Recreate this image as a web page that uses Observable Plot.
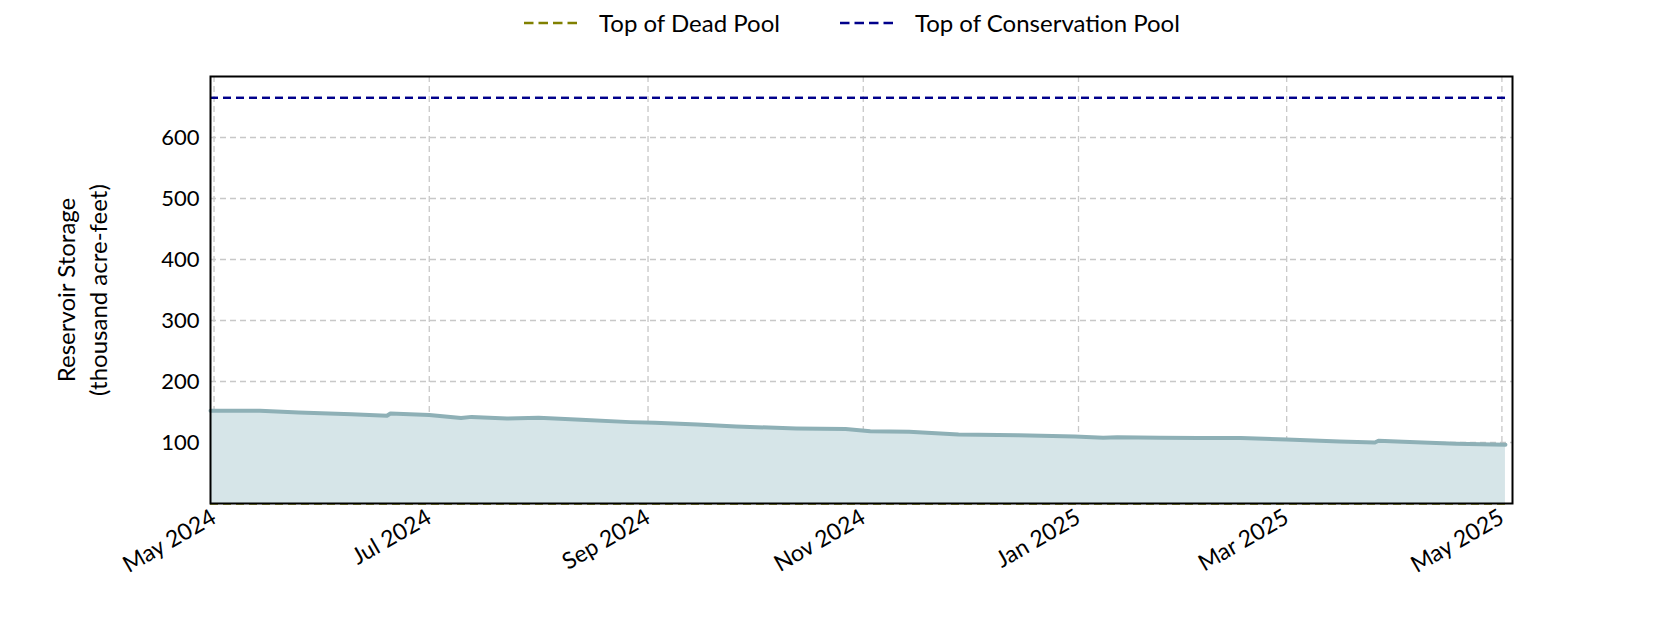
<!DOCTYPE html>
<html>
<head>
<meta charset="utf-8">
<script src="https://cdn.jsdelivr.net/npm/d3@7"></script>
<script src="https://cdn.jsdelivr.net/npm/@observablehq/plot@0.6"></script>
<style>
  body { margin: 0; background: #fff; font-family: Lato, "Open Sans", sans-serif; }
  #legend { height: 45px; display: flex; justify-content: center; align-items: center; font-size: 24px; color: #000; padding-left: 24px; box-sizing: border-box; }
  .item { display: flex; align-items: center; margin: 0 30px; }
  .item svg { margin-right: 22px; }
</style>
</head>
<body>
<div id="legend"></div>
<div id="chart"></div>
<script>
const dates = ["2024-04-30","2024-05-14","2024-05-25","2024-06-09","2024-06-19","2024-06-20","2024-07-01","2024-07-10","2024-07-13","2024-07-23","2024-08-01","2024-08-13","2024-08-27","2024-09-03","2024-09-15","2024-09-26","2024-10-13","2024-10-27","2024-11-03","2024-11-14","2024-11-28","2024-12-15","2024-12-31","2025-01-08","2025-01-12","2025-01-24","2025-02-04","2025-02-16","2025-03-01","2025-03-16","2025-03-26","2025-03-27","2025-04-03","2025-04-18","2025-05-02"];
const storage = [152,152,149.2,146.5,143.8,147.5,144.9,140,142,139.4,140.5,137.2,133.4,132.3,129.5,126.2,123,122,118.5,117.5,113.1,112,109.8,107.7,108.8,107.7,107.2,107.2,105,101.6,100,102.8,101.1,97.9,96.2];
const deadPool = 0;
const conservationPool = 665;
const yTicks = [100, 200, 300, 400, 500, 600];
const xTickDates = ["2024-05-01","2024-07-01","2024-09-01","2024-11-01","2025-01-01","2025-03-01","2025-05-01"];
const xDomain = ["2024-04-30","2025-05-04"];
const legendLabels = ["Top of Dead Pool", "Top of Conservation Pool"];
const legendColors = ["#808000", "#00008b"];
const yLabel = "Reservoir Storage\n(thousand acre-feet)";

const parse = d3.utcParse("%Y-%m-%d");
const data = dates.map((d, i) => ({date: parse(d), value: storage[i]}));
const start = data[0].date, end = data[data.length - 1].date;
const pools = [
  {name: legendLabels[0], value: deadPool, color: legendColors[0]},
  {name: legendLabels[1], value: conservationPool, color: legendColors[1]}
];

// legend
const legend = document.getElementById("legend");
legendLabels.forEach((lab, i) => {
  const it = document.createElement("div");
  it.className = "item";
  it.innerHTML = `<svg width="53" height="10"><line x1="0" y1="5" x2="53" y2="5" stroke="${legendColors[i]}" stroke-width="2.6" stroke-dasharray="9.5,5"/></svg><span>${lab}</span>`;
  legend.appendChild(it);
});

const chart = Plot.plot({
  width: 1680,
  height: 585,
  marginTop: 31,
  marginLeft: 210,
  marginRight: 168,
  marginBottom: 127,
  style: {fontFamily: "Lato, 'Open Sans', sans-serif", fontSize: "22px", color: "#000", background: "#fff"},
  x: {type: "utc", domain: xDomain.map(parse)},
  y: {domain: [0, 700]},
  marks: [
    Plot.gridX(xTickDates.map(parse), {stroke: "#c8c8c8", strokeOpacity: 1, strokeWidth: 1.3, strokeDasharray: "6,4"}),
    Plot.gridY(yTicks, {stroke: "#c8c8c8", strokeOpacity: 1, strokeWidth: 1.3, strokeDasharray: "6,4"}),
    Plot.ruleY(pools, {y: "value", x1: start, x2: end, stroke: "color", strokeWidth: 2.4, strokeDasharray: "8,5"}),
    Plot.areaY(data, {x: "date", y: "value", fill: "#d6e5e8", fillOpacity: 1}),
    Plot.lineY(data, {x: "date", y: "value", stroke: "#8eb0b6", strokeWidth: 4}),
    Plot.ruleY(pools.filter(p => p.value > 0), {y: "value", x1: start, x2: end, stroke: "color", strokeWidth: 2.4, strokeDasharray: "8,5"}),
    Plot.axisY(yTicks, {tickSize: 0, tickPadding: 11, fontSize: 22, label: null}),
    Plot.text([yLabel], {frameAnchor: "left", rotate: -90, dx: -130, fontSize: 24, lineHeight: 1.35, textAnchor: "middle", fill: "#000"}),
    Plot.axisX(xTickDates.map(parse), {tickSize: 0, tickPadding: 12, tickFormat: d3.utcFormat("%b %Y"), tickRotate: -30, fontSize: 23, label: null}),
    Plot.frame({stroke: "#000", strokeWidth: 2})
  ]
});
document.getElementById("chart").appendChild(chart);
</script>
</body>
</html>
